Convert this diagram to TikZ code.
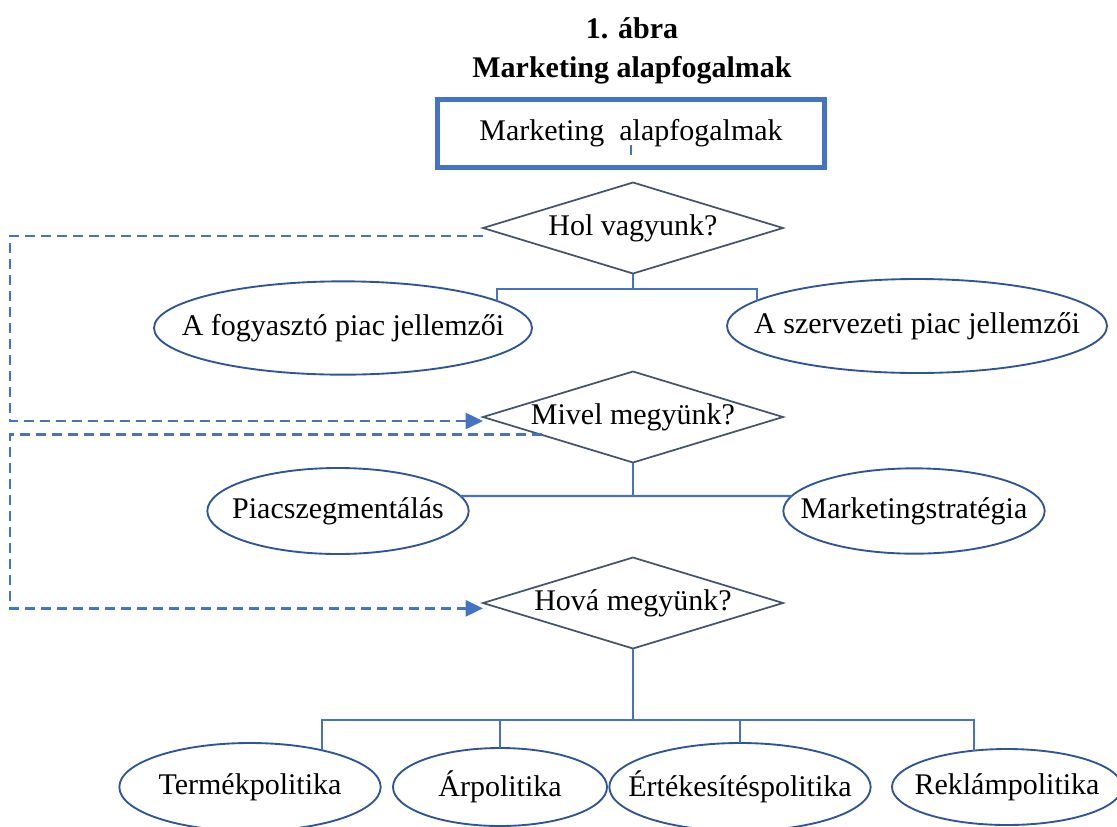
\documentclass[tikz,border=0pt]{standalone}
\usepackage{fontspec}
\setmainfont{Liberation Serif}
\usetikzlibrary{shapes.geometric,arrows.meta}
\definecolor{linkblue}{HTML}{4472C4}
\definecolor{diagray}{HTML}{44546A}
\definecolor{ellblue}{HTML}{2F5597}
\newcommand{\zw}[1]{\makebox[0pt]{#1}}
\begin{document}
\begin{tikzpicture}[x=0.75pt,y=-0.75pt,
        every node/.style = {font=\fontsize{22.5}{29}\selectfont, inner sep=0pt, outer sep=0pt},
        mainbox/.style = {draw=linkblue, line width=3.75pt, minimum width=290pt, minimum height=51pt},
        quest/.style = {diamond, draw=diagray, line width=1.3pt, minimum width=225pt, minimum height=68.25pt},
        topic/.style = {ellipse, draw=ellblue, line width=1.4pt},
        link/.style = {draw=linkblue, line width=1.6pt},
        dashlink/.style = {draw=linkblue, line width=2pt, dash pattern=on 7.5pt off 4.5pt,
            -{Triangle[length=13pt,width=12pt]}}
    ]
    \path[use as bounding box, clip] (0,0) rectangle (1117,826);

    % title and main box
    \node[align=center, font=\fontsize{22.5}{29}\selectfont\bfseries] (title) at (632,51) {1. ábra\\Marketing alapfogalmak};
    \node[mainbox] (box) at (631,133.5) {\raisebox{-5pt}{Marketing\ \ alapfogalmak}};
    \draw[link] ([yshift=9.5pt]box.south) -- ([yshift=17pt]box.south);

    % questions
    \node[quest] (d1) at (633,228) {\zw{Hol vagyunk?}};
    \node[quest] (d2) at (633,417) {\zw{Mivel megyünk?}};
    \node[quest] (d3) at (633,603) {\zw{Hová megyünk?}};

    % topics
    \node[topic, minimum width=283.5pt, minimum height=70pt] (e1) at (343,328) {\zw{A fogyasztó piac jellemzői}};
    \node[topic, minimum width=285pt, minimum height=70.5pt] (e2) at (917,326) {\zw{A szervezeti piac jellemzői}};
    \node[topic, minimum width=196pt, minimum height=64.5pt] (e3) at (338,511) {\zw{Piacszegmentálás}};
    \node[topic, minimum width=196pt, minimum height=64pt] (e4) at (914,511) {\zw{Marketingstratégia}};
    \node[topic, minimum width=196pt, minimum height=66pt] (e5) at (250,787) {\zw{Termékpolitika}};
    \node[topic, minimum width=160.5pt, minimum height=58.5pt] (e6) at (500,787) {\zw{Árpolitika}};
    \node[topic, minimum width=196pt, minimum height=66pt] (e7) at (740,787) {\zw{Értékesítéspolitika}};
    \node[topic, minimum width=172.5pt, minimum height=57pt] (e8) at (1007,787) {\zw{Reklámpolitika}};

    % tree lines
    \coordinate (j1) at (633,289);
    \coordinate (j3) at (633,720);
    \draw[link] (d1.south) -- (j1);
    \draw[link] (e1.10) |- (j1) -| (e2.171);
    \draw[link] (e3.7) -- (e4.173);
    \draw[link] (d2.south) -- (d2.south |- e3.7);
    \draw[link] (d3.south) -- (j3);
    \draw[link] (e5.27) |- (j3) -| (e8.132);
    \draw[link] (e6.north) -- (e6.north |- j3);
    \draw[link] (e7.north) -- (e7.north |- j3);

    % feedback arrows
    \coordinate (lft) at (10,0);
    \coordinate (s1) at ([yshift=-6pt]d1.west);
    \coordinate (s2) at (d2.191);
    \draw[dashlink] (s1) -- (s1 -| lft) |- ([yshift=-3pt]d2.west);
    \draw[dashlink] (s2) -- (s2 -| lft) |- ([yshift=-4pt]d3.west);
\end{tikzpicture}
\end{document}
